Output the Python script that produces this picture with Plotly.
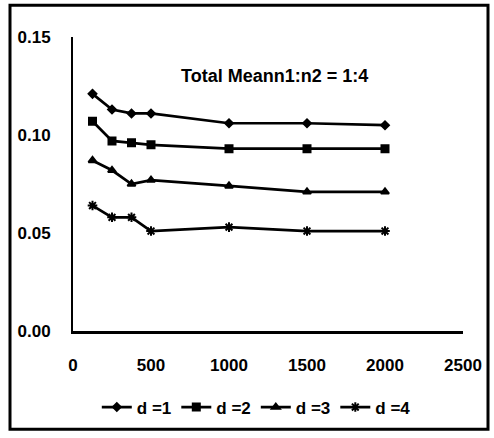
import plotly.graph_objects as go

# Sample sizes and total mean values for each d
n_values = [125, 250, 375, 500, 1000, 1500, 2000]
d1 = [0.121, 0.113, 0.111, 0.111, 0.106, 0.106, 0.105]
d2 = [0.107, 0.097, 0.096, 0.095, 0.093, 0.093, 0.093]
d3 = [0.087, 0.082, 0.075, 0.077, 0.074, 0.071, 0.071]
d4 = [0.064, 0.058, 0.058, 0.051, 0.053, 0.051, 0.051]

series_names = ["d =1", "d =2", "d =3", "d =4"]
x_ticks = [0, 500, 1000, 1500, 2000, 2500]
y_ticks = [0.00, 0.05, 0.10, 0.15]

FONT = "Liberation Sans, Arial, sans-serif"

symbols = ["diamond", "square", "triangle-up", "asterisk-open"]
sizes = [6, 7, 7, 8]

fig = go.Figure()
for name, ys, sym, sz in zip(series_names, [d1, d2, d3, d4], symbols, sizes):
    fig.add_trace(go.Scatter(
        x=n_values, y=ys, name=name, mode="lines+markers",
        line=dict(color="black", width=2.7),
        marker=dict(symbol=sym, size=sz, color="black",
                    line=dict(color="black", width=2)),
    ))

L, R, T, B = 73, 31, 37, 105
W, H = 494, 438
pw, ph = W - L - R, H - T - B

def px_x(p):
    return (p - L) / pw

def px_y(p):
    return (H - B - p) / ph

fig.update_layout(
    width=W, height=H,
    margin=dict(l=L, r=R, t=T, b=B),
    paper_bgcolor="white", plot_bgcolor="white",
    font=dict(family=FONT, size=16, color="black", weight="bold"),
    showlegend=True,
    legend=dict(orientation="h", x=0.47, xanchor="center",
                y=px_y(410), yanchor="middle",
                font=dict(family=FONT, size=17, color="black", weight="bold"),
                itemwidth=30, tracegroupgap=0),
    annotations=[dict(text="Total Meann1:n2 = 1:4", x=px_x(274), y=px_y(64),
                      xref="paper", yref="paper", showarrow=False,
                      font=dict(family=FONT, size=18, color="black", weight="bold"))],
    shapes=[dict(type="rect", xref="paper", yref="paper",
                 x0=px_x(10), x1=px_x(488), y0=px_y(432), y1=px_y(5),
                 line=dict(color="black", width=3))],
)

fig.update_xaxes(range=[0, 2500], tickvals=x_ticks,
                 ticktext=[str(v) for v in x_ticks],
                 showgrid=False, zeroline=False, showline=True,
                 linecolor="black", linewidth=3, ticks="", ticklabelstandoff=17,
                 tickfont=dict(family=FONT, size=17, weight="bold"))
fig.update_yaxes(range=[0, 0.15], tickvals=y_ticks,
                 ticktext=[f"{v:.2f}" for v in y_ticks],
                 showgrid=False, zeroline=False, showline=True,
                 linecolor="black", linewidth=2, ticks="", ticklabelstandoff=17,
                 tickfont=dict(family=FONT, size=17, weight="bold"))

fig.write_html("out.html")
